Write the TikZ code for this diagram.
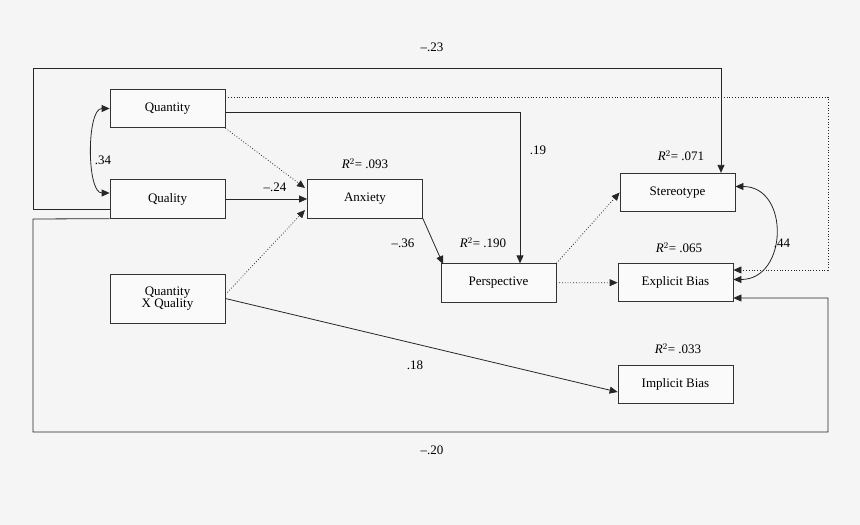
\documentclass[tikz,border=0pt]{standalone}
\usepackage{fontspec}
\setmainfont{Liberation Serif}
\usetikzlibrary{arrows.meta}
\begin{document}
\begin{tikzpicture}[x=1pt,y=-1pt,
  box/.style={draw=black!80,fill=white!50!black!4,line width=0.8pt,minimum width=115pt,minimum height=38.5pt,inner sep=0pt,font=\fontsize{13}{14}\selectfont,align=center},
  lbl/.style={font=\fontsize{13}{14}\selectfont},
  ar/.style={draw=black!85,line width=0.8pt,-{Triangle[length=8pt,width=7pt]}},
  dar/.style={ar,dotted},
  ln/.style={draw=black!85,line width=0.8pt}]
\fill[black!4] (0,0) rectangle (860,525);
\useasboundingbox (0,0) rectangle (860,525);
\node[box] (qn) at (167.5,108.5) {Quantity};
\node[box] (ql) at (167.5,199) {Quality};
\node[box,minimum height=49pt] (qx) at (167.5,298.5) {Quantity\\[-2pt]X Quality};
\node[box] (an) at (365,199) {Anxiety};
\node[box] (pe) at (498.5,283) {Perspective};
\node[box] (st) at (677.5,192.5) {Stereotype};
\node[box] (ex) at (675.5,282.5) {Explicit Bias};
\node[box] (im) at (675.5,384.5) {Implicit Bias};
\coordinate (a1) at (33,209);
\coordinate (a2) at (33,68);
\coordinate (a3) at (721,68);
\coordinate (b1) at (33,219);
\coordinate (b2) at (33,432);
\coordinate (b3) at (828,432);
\coordinate (b4) at (828,298);
\coordinate (c1) at (520,112);
\coordinate (d1) at (828,97);
\coordinate (d2) at (828,270);
% loops
\draw[ar] (qn.west |- a1) -- (a1) -- (a2) -- (a3) -- (a3 |- st.north);
\draw[ar] (ql.south west) -- (b1) -- (b2) -- (b3) -- (b4) -- (ex.east |- b4);
\draw[ar] (qn.east |- c1) -- (c1) -- (c1 |- pe.north);
\draw[dar] (qn.east |- d1) -- (d1) -- (d2) -- (ex.east |- d2);
% paths
\draw[dar] (qn.south east) -- (305,188);
\draw[ar] (ql) -- (an);
\draw[dar] (qx.east) ++(0,-4) -- (305,210);
\draw[ar] (qx.east) -- (im.west |- 0,392);
\draw[ar] (an.south east) -- (443,264);
\draw[dar] (pe.north east) -- (st.west);
\draw[dar] (pe) -- (ex);
\draw[ar,{Triangle[length=8pt,width=7pt]}-{Triangle[length=8pt,width=7pt]}] (st.east) ++(0,-6) to[out=0,in=0,looseness=1.5] ([yshift=3pt]ex.east);
\draw[ar,{Triangle[length=8pt,width=7pt]}-{Triangle[length=8pt,width=7pt]}] (qn.west) to[out=180,in=180,looseness=0.7] ([yshift=6pt]ql.west);
% labels
\node[lbl] at (432,47) {–.23};
\node[lbl] at (432,450) {–.20};
\node[lbl] at (538,150) {.19};
\node[lbl] at (103,160) {.34};
\node[lbl] at (275,187) {–.24};
\node[lbl] at (403,243) {–.36};
\node[lbl] at (415,365) {.18};
\node[lbl] at (782,243) {.44};
\node[lbl] at (365,164) {\textit{R}$^2$= .093};
\node[lbl] at (483,243) {\textit{R}$^2$= .190};
\node[lbl] at (681,156) {\textit{R}$^2$= .071};
\node[lbl] at (679,248) {\textit{R}$^2$= .065};
\node[lbl] at (678,349) {\textit{R}$^2$= .033};
\end{tikzpicture}
\end{document}
